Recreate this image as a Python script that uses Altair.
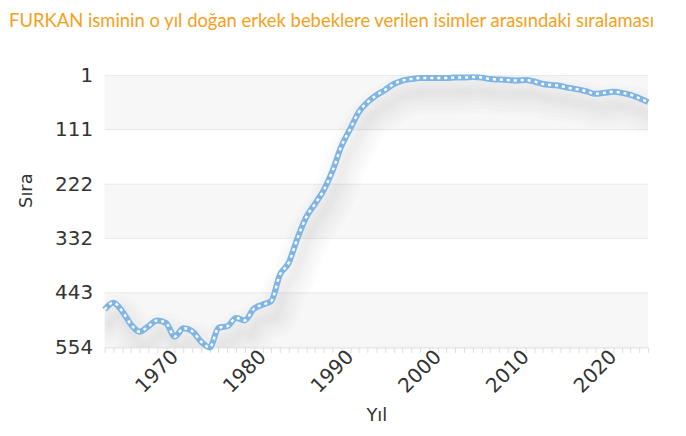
import altair as alt
import pandas as pd

# ---- data ----
years = list(range(1962, 2025))
ranks = [477, 463, 480, 507, 522, 511, 499, 504, 532, 515,
         521, 542, 554, 514, 511, 494, 499, 476, 467, 460,
         406, 382, 332, 289, 262, 234, 195, 145, 110, 75,
         55, 41, 30, 18, 11, 8, 6, 6, 6, 6,
         5, 5, 4, 5, 8, 9, 10, 11, 10, 13,
         18, 20, 22, 26, 29, 33, 38, 36, 34, 36,
         40, 47, 55]
y_ticks = [1, 111, 222, 332, 443, 554]
x_ticks = list(range(1962, 2025))
band_lo = [1, 222, 443]
band_hi = [111, 332, 554]

title_text = "FURKAN isminin o yıl doğan erkek bebeklere verilen isimler arasındaki sıralaması"

df = pd.DataFrame({"Yıl": years, "Sıra": ranks})
bands = pd.DataFrame({"lo": band_lo, "hi": band_hi,
                      "x0": [years[0]] * len(band_lo), "x1": [years[-1]] * len(band_lo)})
grid = pd.DataFrame({"v": y_ticks, "x0": [years[0]] * len(y_ticks),
                     "x1": [years[-1]] * len(y_ticks)})

W, H = 546, 273
FONT = "DejaVu Sans"
xscale = alt.Scale(domain=[years[0], years[-1]], nice=False, zero=False)
yscale = alt.Scale(domain=[y_ticks[0], y_ticks[-1]], reverse=True, nice=False, zero=False)

x_axis = alt.Axis(values=x_ticks, format="d",
                  labelExpr="datum.value % 10 == 0 ? datum.label : ''",
                  labelAngle=315, labelAlign="right", labelBaseline="middle",
                  labelPadding=1, labelFont=FONT, labelFontSize=20, labelColor="#333",
                  labelOverlap=False, labelFlush=False, labelBound=False,
                  tickSize=5, tickColor="#dddddd", domainColor="#dddddd", grid=False,
                  title="Yıl", titleFont=FONT, titleFontSize=18, titleColor="#333",
                  titleFontWeight="normal", titleX=W / 2, titleY=68, titleBaseline="middle")
y_axis = alt.Axis(values=y_ticks, format="d", grid=False, domain=False, ticks=False,
                  labelPadding=12, labelFont=FONT, labelFontSize=20, labelColor="#333",
                  labelOverlap=False,
                  title="Sıra", titleFont=FONT, titleFontSize=18, titleColor="#333",
                  titleFontWeight="normal", titleAngle=270, titleX=-78, titleY=115,
                  titleBaseline="middle", titleAlign="center")

band_layer = alt.Chart(bands).mark_rect(color="#f7f7f7").encode(
    x=alt.X("x0:Q", scale=xscale, axis=x_axis),
    x2="x1:Q",
    y=alt.Y("lo:Q", scale=yscale, axis=y_axis),
    y2="hi:Q",
)
grid_layer = alt.Chart(grid).mark_rule(color="#e8e8e8", strokeWidth=1).encode(
    x=alt.X("x0:Q", scale=xscale, axis=x_axis),
    x2="x1:Q",
    y=alt.Y("v:Q", scale=yscale, axis=y_axis),
)

base = alt.Chart(df).encode(
    x=alt.X("Yıl:Q", scale=xscale, axis=x_axis),
    y=alt.Y("Sıra:Q", scale=yscale, axis=y_axis),
)
shadows = [
    base.mark_line(color="#000000", opacity=0.013, strokeWidth=w, interpolate="monotone",
                   xOffset=5, yOffset=14, clip=True, strokeCap="round", strokeJoin="round")
    for w in (44, 36, 28, 20, 13, 7)
]
main_line = base.mark_line(color="#7fb5e5", strokeWidth=6, interpolate="monotone")
dash_line = base.mark_line(color="#ffffff", strokeWidth=2.5, strokeDash=[3, 4],
                           interpolate="monotone")

chart = alt.layer(band_layer, grid_layer, *shadows, main_line, dash_line).properties(
    width=W, height=H,
    autosize=alt.AutoSizeParams(type="none"),
    padding={"left": 97, "top": 67, "right": 30, "bottom": 80},
    title=alt.TitleParams(text=title_text, anchor="start", frame="group", dx=-96,
                          offset=35, font="Lato", fontSize=18.5,
                          fontWeight="normal", color="#f5a11c"),
).configure_view(stroke=None)

chart.save("out.html", embed_options={"renderer": "svg", "actions": False})
